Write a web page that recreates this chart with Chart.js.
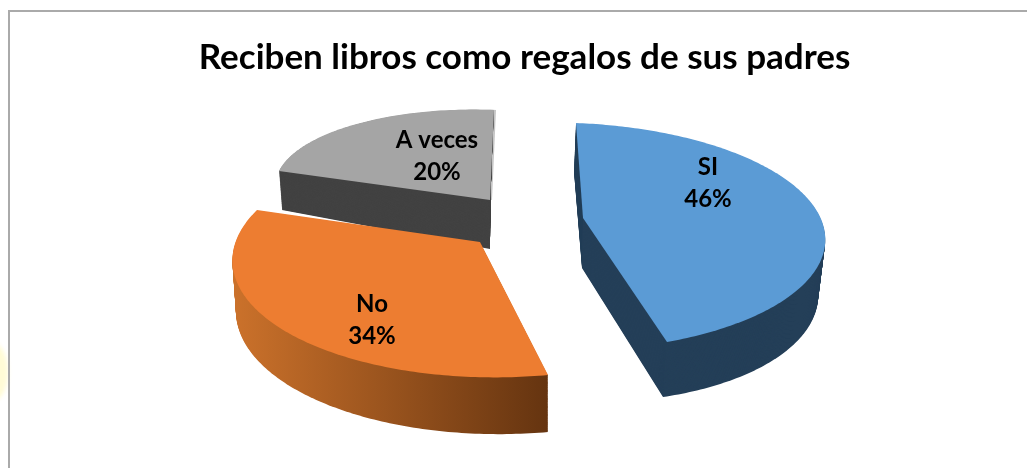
<!DOCTYPE html>
<html><head><meta charset="utf-8">
<style>
html,body{margin:0;padding:0;background:#fff;width:1027px;height:468px;overflow:hidden}
#frame{position:absolute;left:8px;top:10px;width:1019px;height:458px;border-top:2px solid #aaa;border-left:2px solid #aaa;box-sizing:border-box}
#glow{position:absolute;left:-22px;top:343px;width:30px;height:58px;border-radius:50%;background:#fffbd6;filter:blur(2px)}
canvas{position:absolute;left:0;top:0}
</style>
<script src="https://cdn.jsdelivr.net/npm/chart.js@4"></script>
</head><body>
<div id="glow"></div><div id="frame"></div>
<canvas id="c" width="1027" height="468"></canvas>
<script>
const titleText = 'Reciben libros como regalos de sus padres';
const categories = ['SI', 'No', 'A veces'];
const percentValues = [46, 34, 20];
const faceColors = ['#5b9bd5', '#ed7d31', '#a5a5a5'];

// Perspective placement of each slice: where its apex, two cut ends and one rim point land.
const sliceViews = [
  {rimAt:.63, top:[[583,218],[576,123],[667,342],[825,245]], bottom:[[582,268],[574,172],[663,397],[818,300]], label:[708,167]},
  {rimAt:.385, top:[[480,242],[548,375],[257,210],[320,348]], bottom:[[481,292],[548,432],[261,258],[321,402]], label:[372,304]},
  {rimAt:.50, top:[[490,200],[279,171],[494,110],[353,125]], bottom:[[490,249],[282,210],[490,158],[356,165]], label:[437,140], edge:'#c6c6c6'}
];
const paintOrder = [2, 1, 0];
const depthLayers = 64;

function solve(A, b) {
  const n = b.length, M = A.map((r, i) => [...r, b[i]]);
  for (let i = 0; i < n; i++) {
    let p = i;
    for (let k = i + 1; k < n; k++) if (Math.abs(M[k][i]) > Math.abs(M[p][i])) p = k;
    [M[i], M[p]] = [M[p], M[i]];
    for (let k = 0; k < n; k++) {
      if (k === i) continue;
      const f = M[k][i] / M[i][i];
      for (let j = i; j <= n; j++) M[k][j] -= f * M[i][j];
    }
  }
  return M.map((r, i) => r[n] / r[i]);
}
function homography(src, dst) {
  const A = [], b = [];
  src.forEach(([x, y], i) => {
    const [u, v] = dst[i];
    A.push([x, y, 1, 0, 0, 0, -u * x, -u * y]); b.push(u);
    A.push([0, 0, 0, x, y, 1, -v * x, -v * y]); b.push(v);
  });
  const h = solve(A, b);
  return (x, y) => {
    const w = h[6] * x + h[7] * y + 1;
    return [(h[0] * x + h[1] * y + h[2]) / w, (h[3] * x + h[4] * y + h[5]) / w];
  };
}
function projectedContext(ctx, map, fill) {
  const over = {
    moveTo(x, y) { const p = map(x, y); ctx.moveTo(p[0], p[1]); },
    lineTo(x, y) { const p = map(x, y); ctx.lineTo(p[0], p[1]); },
    arc(x, y, r, a0, a1, ccw) {
      const d = ccw ? -1 : 1;
      let span = (a1 - a0) * d;
      while (span < 0) span += Math.PI * 2;
      const n = Math.max(2, Math.ceil(span / 0.015));
      for (let i = 0; i <= n; i++) {
        const a = a0 + d * span * i / n;
        const p = map(x + r * Math.cos(a), y + r * Math.sin(a));
        ctx.lineTo(p[0], p[1]);
      }
    }
  };
  return new Proxy(ctx, {
    get(t, k) { if (k in over) return over[k]; const v = t[k]; return typeof v === 'function' ? v.bind(t) : v; },
    set(t, k, v) { t[k] = k === 'fillStyle' ? fill : v; return true; }
  });
}
const pie3d = {
  id: 'pie3d',
  beforeDatasetsDraw(chart) {
    const ctx = chart.ctx, arcs = chart.getDatasetMeta(0).data;
    const orangeSide = ctx.createLinearGradient(231, 0, 548, 0);
    orangeSide.addColorStop(0, '#cc722b');
    orangeSide.addColorStop(1, '#653410');
    const sideFills = ['#243f58', orangeSide, '#424242'];
    paintOrder.forEach(i => {
      const el = arcs[i], view = sliceViews[i];
      const at = f => {
        const a = el.startAngle + (el.endAngle - el.startAngle) * f;
        return [el.x + el.outerRadius * Math.cos(a), el.y + el.outerRadius * Math.sin(a)];
      };
      const src = [[el.x, el.y], at(0), at(1), at(view.rimAt)];
      if (view.edge) {
        const moved = view.top.map(p => [p[0] + 2, p[1]]);
        el.draw(projectedContext(ctx, homography(src, moved), view.edge));
      }
      for (let l = depthLayers; l >= 0; l--) {
        const t = l / depthLayers;
        const dst = view.top.map((p, k) => [p[0] + (view.bottom[k][0] - p[0]) * t, p[1] + (view.bottom[k][1] - p[1]) * t]);
        el.draw(projectedContext(ctx, homography(src, dst), l === 0 ? faceColors[i] : sideFills[i]));
      }
    });
    ctx.save();
    ctx.fillStyle = '#000';
    ctx.font = 'bold 24px Lato';
    ctx.textAlign = 'center';
    ctx.textBaseline = 'middle';
    categories.forEach((name, i) => {
      const [x, y] = sliceViews[i].label;
      ctx.fillText(name, x, y);
      ctx.fillText(percentValues[i] + '%', x, y + 32);
    });
    ctx.restore();
    return false;
  }
};
new Chart(document.getElementById('c'), {
  type: 'pie',
  data: {
    labels: categories,
    datasets: [{ data: percentValues, backgroundColor: faceColors, borderWidth: 0 }]
  },
  plugins: [pie3d],
  options: {
    responsive: false,
    animation: false,
    rotation: -3,
    layout: { padding: { left: 22 } },
    plugins: {
      legend: { display: false },
      tooltip: { enabled: false },
      title: {
        display: true,
        text: titleText,
        color: '#000',
        font: { family: 'Lato', weight: 'bold', size: 35 },
        padding: { top: 37, bottom: 14 }
      }
    }
  }
});
</script>
</body></html>
